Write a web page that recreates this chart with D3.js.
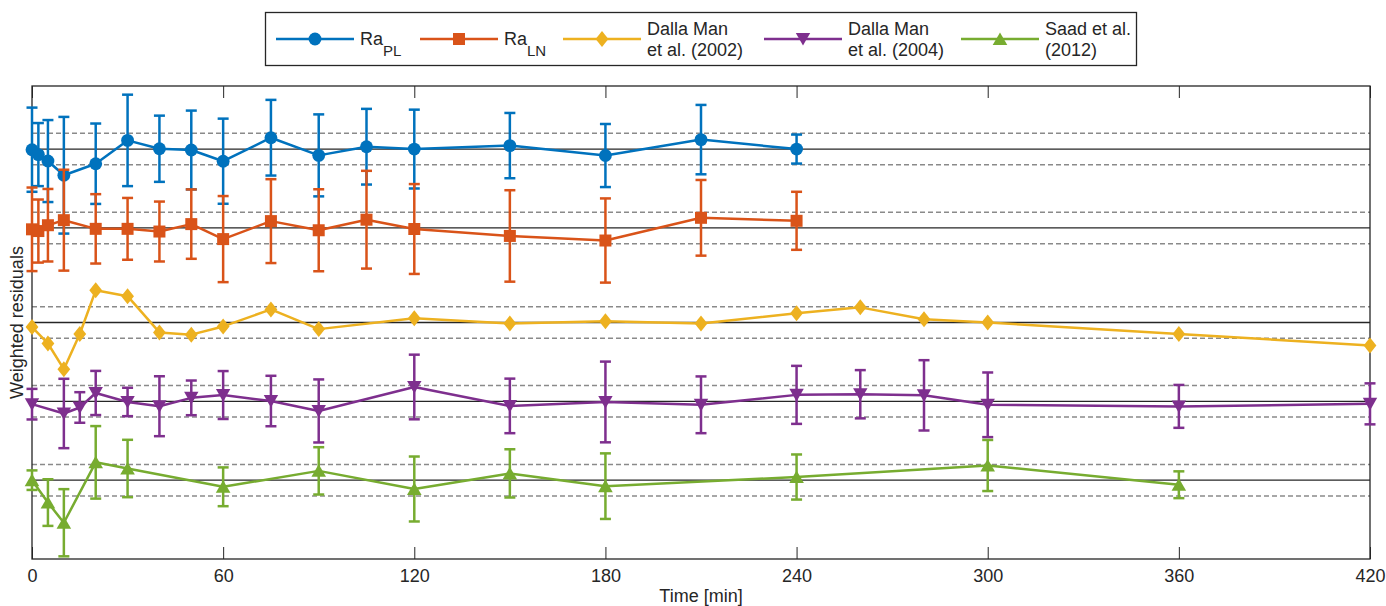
<!DOCTYPE html>
<html>
<head>
<meta charset="utf-8">
<script src="https://cdn.jsdelivr.net/npm/d3@7"></script>
<style>
  body { margin: 0; background: #fff; }
  svg { font-family: "Liberation Sans", Arial, sans-serif; }
  .tick text { font-size: 18px; fill: #262626; }
</style>
</head>
<body>
<svg width="1386" height="606"></svg>
<script>
const width = 1386, height = 606;

// series names and colours (legend order)
const names = ["Ra_PL", "Ra_LN", "Dalla Man|et al. (2002)", "Dalla Man|et al. (2004)", "Saad et al.|(2012)"];
const colors = ["#0072BD", "#D95319", "#EDB120", "#7E2F8E", "#77AC30"];
const markers = ["circle", "square", "diamond", "triDown", "triUp"];
// each series is shifted up by this amount so they stack
const offsets = [21, 16, 10, 5, 0];

const tPL = [0, 2, 5, 10, 20, 30, 40, 50, 60, 75, 90, 105, 120, 150, 180, 210, 240];
const resPL = [-0.04, -0.35, -0.76, -1.66, -0.93, 0.55, 0.02, -0.06, -0.77, 0.72, -0.4, 0.15, 0.0, 0.22, -0.41, 0.6, 0.0];
const errPL = [2.67, 2.0, 2.6, 3.7, 2.55, 2.9, 2.1, 2.5, 2.7, 2.4, 2.6, 2.4, 2.5, 2.07, 2.0, 2.2, 0.92];

const tLN = [0, 2, 5, 10, 20, 30, 40, 50, 60, 75, 90, 105, 120, 150, 180, 210, 240];
const resLN = [-0.09, -0.2, 0.17, 0.49, -0.06, -0.06, -0.23, 0.24, -0.71, 0.43, -0.15, 0.52, -0.07, -0.51, -0.8, 0.64, 0.45];
const errLN = [2.65, 2.0, 2.3, 3.2, 2.2, 1.96, 1.9, 2.2, 2.73, 2.66, 2.6, 3.1, 2.85, 2.9, 2.67, 2.4, 1.84];

const tDM02 = [0, 5, 10, 15, 20, 30, 40, 50, 60, 75, 90, 120, 150, 180, 210, 240, 260, 280, 300, 360, 420];
const resDM02 = [-0.29, -1.33, -2.96, -0.73, 2.04, 1.67, -0.63, -0.77, -0.25, 0.83, -0.42, 0.27, -0.06, 0.08, -0.06, 0.58, 0.96, 0.21, 0.0, -0.73, -1.46];

const tDM04 = [0, 10, 15, 20, 30, 40, 50, 60, 75, 90, 120, 150, 180, 210, 240, 260, 280, 300, 360, 420];
const resDM04 = [-0.18, -0.77, -0.39, 0.53, -0.04, -0.31, 0.22, 0.4, 0.02, -0.61, 0.91, -0.29, -0.04, -0.22, 0.41, 0.45, 0.38, -0.22, -0.32, -0.16];
const errDM04 = [0.97, 2.2, 0.97, 1.4, 0.9, 1.9, 1.1, 1.52, 1.6, 2.0, 2.05, 1.73, 2.56, 1.8, 1.84, 1.53, 2.23, 2.05, 1.36, 1.3];

const tS12 = [0, 5, 10, 20, 30, 60, 90, 120, 150, 180, 240, 300, 360];
const resS12 = [0.0, -1.42, -2.7, 1.13, 0.74, -0.42, 0.59, -0.56, 0.43, -0.38, 0.2, 0.93, -0.29];
const errS12 = [0.62, 1.48, 2.13, 2.3, 1.82, 1.23, 1.5, 2.06, 1.53, 2.08, 1.43, 1.62, 0.85];

const xTicks = [0, 60, 120, 180, 240, 300, 360, 420];

const series = [
    { t: tPL, r: resPL, e: errPL },
    { t: tLN, r: resLN, e: errLN },
    { t: tDM02, r: resDM02, e: null },
    { t: tDM04, r: resDM04, e: errDM04 },
    { t: tS12, r: resS12, e: errS12 }
];

const svg = d3.select("svg");
const margin = { left: 32, right: 16, top: 86, bottom: 47 };

const x = d3.scaleLinear().domain([0, 420]).range([margin.left, width - margin.right]);
const y = d3.scaleLinear().domain([-5, 25]).range([height - margin.bottom, margin.top]);

// marker paths centred on 0,0
function markerPath(type) {
    switch (type) {
        case "circle": return d3.symbol(d3.symbolCircle, 130)();
        case "square": return "M-6,-6H6V6H-6Z";
        case "diamond": return "M0,-8L6.4,0L0,8L-6.4,0Z";
        case "triDown": return "M-7.2,-6L7.2,-6L0,6.6Z";
        case "triUp": return "M0,-6.6L7.3,6L-7.3,6Z";
    }
}

// zero line and +-1 dashed lines for every series
offsets.forEach(o => {
    svg.append("line")
        .attr("x1", x(0)).attr("x2", x(420))
        .attr("y1", y(o)).attr("y2", y(o))
        .attr("stroke", "#262626").attr("stroke-width", 1.3);
    [-1, 1].forEach(s => {
        svg.append("line")
            .attr("x1", x(0)).attr("x2", x(420))
            .attr("y1", y(o + s)).attr("y2", y(o + s))
            .attr("stroke", "#8a8a8a").attr("stroke-width", 1.5)
            .attr("stroke-dasharray", "5,3");
    });
});

// axes: ticks point inward, top axis without labels
svg.append("g")
    .attr("transform", `translate(0,${y(-5)})`)
    .call(d3.axisBottom(x).tickValues(xTicks).tickSizeInner(-12).tickSizeOuter(0).tickPadding(10))
    .call(g => g.select(".domain").remove())
    .call(g => g.selectAll(".tick line").attr("stroke", "#262626"));

svg.append("g")
    .attr("transform", `translate(0,${y(25)})`)
    .call(d3.axisTop(x).tickValues(xTicks).tickSizeInner(-12).tickSizeOuter(0).tickFormat(""))
    .call(g => g.select(".domain").remove())
    .call(g => g.selectAll(".tick line").attr("stroke", "#262626"));

svg.append("rect")
    .attr("x", x(0)).attr("y", y(25))
    .attr("width", x(420) - x(0)).attr("height", y(-5) - y(25))
    .attr("fill", "none").attr("stroke", "#262626").attr("stroke-width", 1.3);

svg.append("text")
    .attr("x", (x(0) + x(420)) / 2).attr("y", 602)
    .attr("text-anchor", "middle")
    .attr("font-size", 18).attr("fill", "#262626")
    .text("Time [min]");

svg.append("text")
    .attr("transform", `translate(23,${(y(-5) + y(25)) / 2}) rotate(-90)`)
    .attr("text-anchor", "middle")
    .attr("font-size", 18).attr("fill", "#262626")
    .text("Weighted residuals");

// data series
const line = d3.line().x(d => x(d.t)).y(d => y(d.v));

series.forEach((s, i) => {
    const pts = s.t.map((t, k) => ({ t: t, v: s.r[k] + offsets[i], e: s.e ? s.e[k] : 0 }));
    const g = svg.append("g").attr("stroke", colors[i]).attr("fill", colors[i]);

    if (s.e) {
        const bars = g.selectAll(".err").data(pts).enter().append("g");
        bars.append("line")
            .attr("x1", d => x(d.t)).attr("x2", d => x(d.t))
            .attr("y1", d => y(d.v + d.e)).attr("y2", d => y(d.v - d.e))
            .attr("stroke-width", 2.5);
        [1, -1].forEach(sg => {
            bars.append("line")
                .attr("x1", d => x(d.t) - 5.5).attr("x2", d => x(d.t) + 5.5)
                .attr("y1", d => y(d.v + sg * d.e)).attr("y2", d => y(d.v + sg * d.e))
                .attr("stroke-width", 2.5);
        });
    }

    g.append("path")
        .datum(pts)
        .attr("fill", "none")
        .attr("stroke-width", 2.5)
        .attr("stroke-linejoin", "round")
        .attr("d", line);

    g.selectAll(".mk").data(pts).enter().append("path")
        .attr("transform", d => `translate(${x(d.t)},${y(d.v)})`)
        .attr("stroke", "none")
        .attr("d", markerPath(markers[i]));
});

// legend
const legend = svg.append("g");
legend.append("rect")
    .attr("x", 265.5).attr("y", 12.5).attr("width", 871).attr("height", 53)
    .attr("fill", "#fff").attr("stroke", "#262626").attr("stroke-width", 1.3);

const legX = [276, 420, 563, 764, 961];
names.forEach((n, i) => {
    const lx = legX[i];
    legend.append("line")
        .attr("x1", lx).attr("x2", lx + 78)
        .attr("y1", 39).attr("y2", 39)
        .attr("stroke", colors[i]).attr("stroke-width", 2.5);
    legend.append("path")
        .attr("transform", `translate(${lx + 39},39)`)
        .attr("fill", colors[i])
        .attr("d", markerPath(markers[i]));
    const tx = lx + 84;
    if (n.startsWith("Ra_")) {
        const t = legend.append("text")
            .attr("x", tx).attr("y", 45)
            .attr("font-size", 18).attr("fill", "#262626");
        t.append("tspan").text("Ra");
        t.append("tspan").attr("font-size", 15).attr("dy", 11).text(n.slice(3));
    } else {
        n.split("|").forEach((part, k) => {
            legend.append("text")
                .attr("x", tx).attr("y", 34.5 + k * 21.5)
                .attr("font-size", 18).attr("fill", "#262626")
                .text(part);
        });
    }
});
</script>
</body>
</html>
